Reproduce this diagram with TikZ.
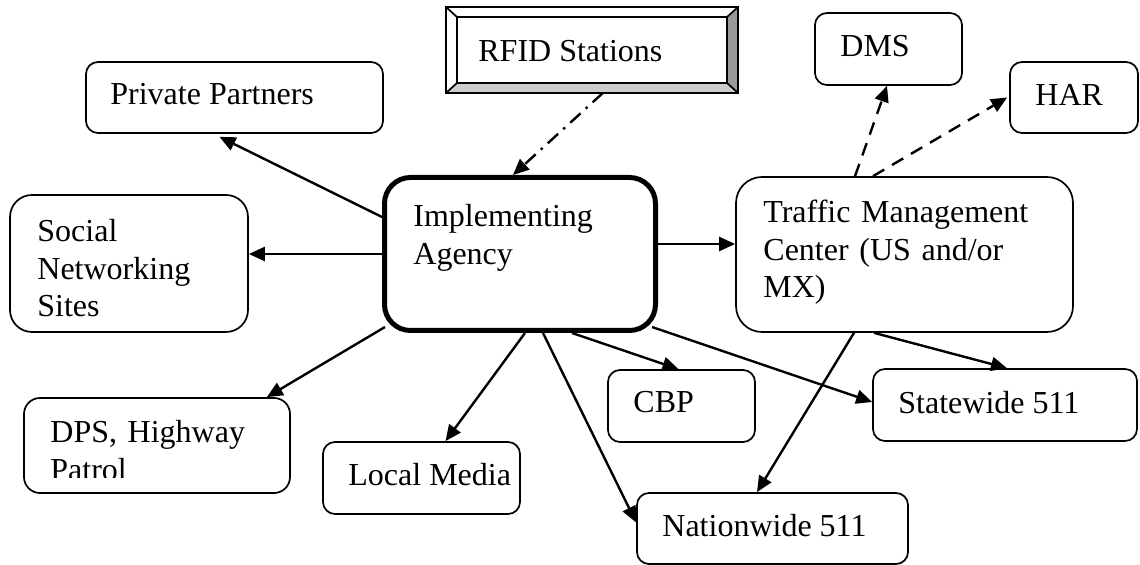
\documentclass[tikz,border=0pt]{standalone}
\usepackage{fontspec}
\setmainfont{Liberation Serif}
\usetikzlibrary{arrows.meta}

\definecolor{bevelDark}{HTML}{999999}
\definecolor{bevelLight}{HTML}{CCCCCC}

\tikzset{
  box/.style={draw, line width=0.85pt, rounded corners=#1, inner sep=0pt},
  box/.default=6pt,
  lbl/.style={anchor=base west, inner sep=0pt, align=left,
    font=\fontsize{16pt}{18.75pt}\selectfont},
  arr/.style={line width=1.2pt, -{Triangle[length=8pt,width=7pt]}},
  dashArr/.style={arr, dash pattern=on 6.5pt off 4.5pt},
  dotArr/.style={arr, dash pattern=on 7pt off 3.5pt on 1.2pt off 3.5pt},
}

\begin{document}
\begin{tikzpicture}[x=0.5pt,y=-0.5pt]
  \useasboundingbox (0,0) rectangle (1140,565);

  % boxes
  \node[box=6pt, minimum width=148.5pt, minimum height=35.5pt] (partners) at (234.5,97.5) {};
  \node[box=11pt, minimum width=119pt, minimum height=68.5pt] (social) at (129,263.5) {};
  \node[box=13pt, line width=2.5pt, minimum width=135.5pt, minimum height=76.5pt] (agency) at (520,254) {};
  \node[box=13pt, minimum width=168.5pt, minimum height=77.5pt] (tmc) at (904.5,254.5) {};
  \node[box=8pt, minimum width=133pt, minimum height=47.5pt] (dps) at (157,445.5) {};
  \node[box, minimum width=98.5pt, minimum height=36pt] (media) at (421.5,478) {};
  \node[box, minimum width=73.5pt, minimum height=36pt] (cbp) at (681.5,406) {};
  \node[box, minimum width=132pt, minimum height=36pt] (state) at (1005,405) {};
  \node[box, minimum width=135.5pt, minimum height=35.5pt] (nation) at (772.5,528.5) {};
  \node[box, minimum width=73.5pt, minimum height=36pt] (dms) at (888.5,49) {};
  \node[box, minimum width=64pt, minimum height=35.5pt] (har) at (1074,97.5) {};

  % bevelled box
  \node[inner sep=0pt, line width=0.85pt, minimum width=145pt, minimum height=42pt] (rfid) at (592,50) {};
  \fill[bevelDark] (rfid.north east) -- (rfid.south east) -- ([shift={(-11,-10)}]rfid.south east)
    -- ([shift={(-11,10)}]rfid.north east) -- cycle;
  \fill[bevelLight] (rfid.south west) -- (rfid.south east) -- ([shift={(-11,-10)}]rfid.south east)
    -- ([shift={(11,-10)}]rfid.south west) -- cycle;
  \draw[line width=0.85pt] (rfid.north west) rectangle (rfid.south east);
  \draw[line width=0.85pt] ([shift={(11,10)}]rfid.north west) rectangle ([shift={(-11,-10)}]rfid.south east);
  \draw[line width=0.85pt] (rfid.north west) -- ([shift={(11,10)}]rfid.north west)
    (rfid.north east) -- ([shift={(-11,10)}]rfid.north east)
    (rfid.south west) -- ([shift={(11,-10)}]rfid.south west)
    (rfid.south east) -- ([shift={(-11,-10)}]rfid.south east);

  % texts
  \node[lbl] (rfidtext) at (478,62) {RFID Stations};
  \node[lbl] (partnerstext) at (110,105) {Private Partners};
  \node[lbl, text width=100pt] (socialtext) at (37,242) {Social\\Networking\\Sites};
  \node[lbl, text width=110pt] (agencytext) at (413,227) {Implementing\\Agency};
  \node[lbl, text width=150pt] (tmctext) at (763,223) {Traffic Management\\Center (US and/or\\MX)};
  \begin{scope}
    \clip (24,398) rectangle (290,478);
    \node[lbl, text width=120pt] (dpstext) at (50,443) {DPS, Highway\\Patrol};
  \end{scope}
  \node[lbl] (mediatext) at (348,486) {Local Media};
  \node[lbl] (cbptext) at (633,413) {CBP};
  \node[lbl] (statetext) at (898,414) {Statewide 511};
  \node[lbl] (nationtext) at (662,537) {Nationwide 511};
  \node[lbl] (dmstext) at (840,57) {DMS};
  \node[lbl] (hartext) at (1035,106) {HAR};

  % connectors
  \draw[dotArr] ([shift={(11,0)}]rfid.south) -- ([shift={(-7,0)}]agency.north);
  \draw[arr] ([shift={(0,-37)}]agency.west) -- ([shift={(-15,3)}]partners.south);
  \draw[arr] (agency.west) -- (agency.west -| social.east);
  \draw[arr] ([shift={(3,-6)}]agency.south west) -- ([shift={(-24,0)}]dps.north east);
  \draw[arr] ([shift={(5,0)}]agency.south) -- ([shift={(24,0)}]media.north);
  \draw[arr] ([shift={(23,0)}]agency.south) -- ([shift={(0,-6)}]nation.west);
  \draw[arr] ([shift={(52,0)}]agency.south) -- ([shift={(-3,0)}]cbp.north);
  \draw[arr] ([shift={(-6,-6)}]agency.south east) -- ([shift={(0,-3)}]state.west);
  \draw[arr] ([shift={(0,-10)}]agency.east) -- ([shift={(0,-10.5)}]tmc.west);
  \draw[dashArr] ([shift={(-49.5,0)}]tmc.north) -- ([shift={(-1.5,0)}]dms.south);
  \draw[dashArr] ([shift={(-31.5,0)}]tmc.north) -- ([shift={(-2,0)}]har.west);
  \draw[arr] ([shift={(-30.5,0)}]tmc.south) -- ([shift={(2,0)}]state.north);
  \draw[arr] ([shift={(-50.5,0)}]tmc.south) -- ([shift={(-15.5,0)}]nation.north);
\end{tikzpicture}
\end{document}
